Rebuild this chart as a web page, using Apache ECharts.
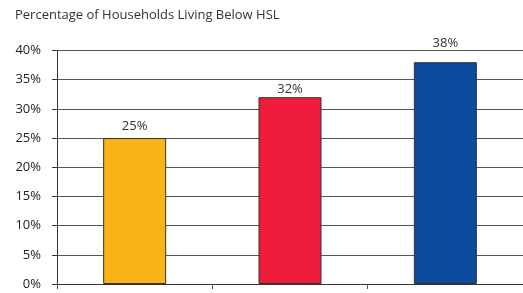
<!DOCTYPE html>
<html>
<head>
<meta charset="utf-8">
<script src="https://cdn.jsdelivr.net/npm/echarts@6/dist/echarts.min.js"></script>
<style>
  html, body { margin: 0; padding: 0; background: #fff; }
  #chart { width: 523px; height: 293px; }
</style>
</head>
<body>
<div id="chart"></div>
<script>
var categories = ['A', 'B', 'C']
var values = [25, 32, 38]
var barColors = ['#FBB416', '#EE1B3A', '#0C4B9E']
// label gaps above each bar, as in the original
var labelGaps = [5, 1, 12]

var chart = echarts.init(document.getElementById('chart'))

var option = {
  animation: false,
  textStyle: { fontFamily: 'Open Sans' },
  title: {
    text: 'Percentage of Households Living Below HSL',
    left: 15,
    top: 9,
    padding: 0,
    textStyle: { fontSize: 13, fontWeight: 'normal', color: '#333', fontFamily: 'Open Sans' }
  },
  grid: { left: 57, right: -3.5, top: 50.5, bottom: 9, containLabel: false },
  xAxis: {
    type: 'category',
    data: categories,
    axisLine: { lineStyle: { color: '#333', width: 1 } },
    axisTick: { show: true, length: 5, lineStyle: { color: '#555' } },
    axisLabel: { show: false }
  },
  yAxis: {
    type: 'value',
    min: 0,
    max: 40,
    interval: 5,
    axisLine: { show: true, lineStyle: { color: '#333', width: 1 } },
    axisTick: { show: true, length: 5, lineStyle: { color: '#333' } },
    axisLabel: {
      formatter: '{value}%',
      margin: 16,
      fontSize: 13,
      color: '#222'
    },
    splitLine: { lineStyle: { color: '#555', width: 1 } }
  },
  series: [
    {
      type: 'bar',
      barWidth: 63,
      data: values.map(function(v, i) {
        return {
          value: v,
          itemStyle: { color: barColors[i] },
          label: { distance: labelGaps[i] }
        }
      }),
      itemStyle: { borderColor: '#333', borderWidth: 1 },
      label: {
        show: true,
        position: 'top',
        formatter: '{c}%',
        fontSize: 13,
        color: '#333'
      }
    }
  ]
}

chart.setOption(option)
</script>
</body>
</html>
